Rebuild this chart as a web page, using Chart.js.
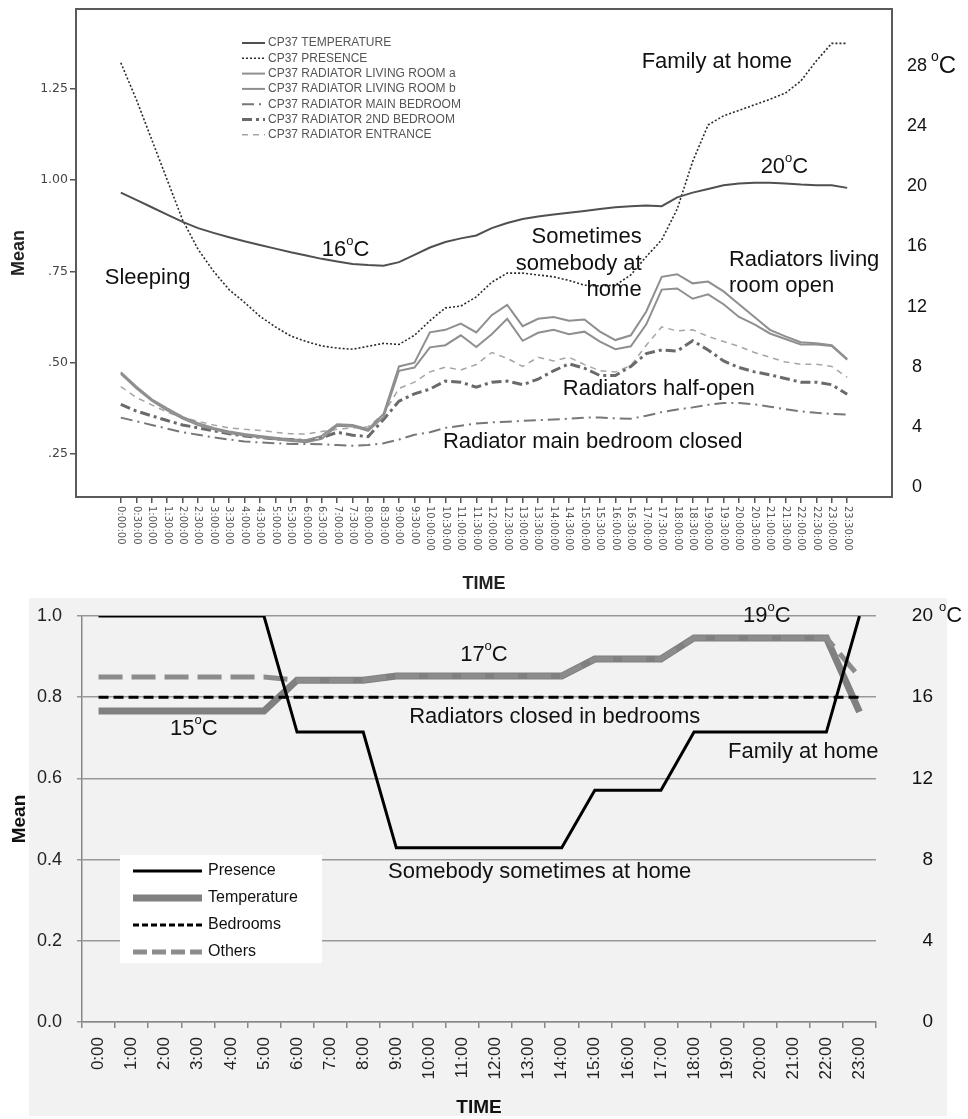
<!DOCTYPE html>
<html>
<head>
<meta charset="utf-8">
<script src="https://cdn.jsdelivr.net/npm/chart.js@4.4.1/dist/chart.umd.min.js"></script>
<style>
  body { margin: 0; background: #fff; }
  canvas { display: block; }
</style>
</head>
<body>
<canvas id="topChart" width="968" height="595"></canvas>
<canvas id="bottomChart" width="968" height="524"></canvas>
<script>
/* ===================== DATA: TOP CHART ===================== */
const times = ['0:00:00','0:30:00','1:00:00','1:30:00','2:00:00','2:30:00','3:00:00','3:30:00',
  '4:00:00','4:30:00','5:00:00','5:30:00','6:00:00','6:30:00','7:00:00','7:30:00',
  '8:00:00','8:30:00','9:00:00','9:30:00','10:00:00','10:30:00','11:00:00','11:30:00',
  '12:00:00','12:30:00','13:00:00','13:30:00','14:00:00','14:30:00','15:00:00','15:30:00',
  '16:00:00','16:30:00','17:00:00','17:30:00','18:00:00','18:30:00','19:00:00','19:30:00',
  '20:00:00','20:30:00','21:00:00','21:30:00','22:00:00','22:30:00','23:00:00','23:30:00'];

const tempTop = [0.965,0.945,0.925,0.905,0.885,0.868,0.855,0.843,0.832,0.822,0.812,0.802,
  0.793,0.784,0.777,0.770,0.767,0.765,0.775,0.795,0.815,0.830,0.840,0.848,
  0.868,0.882,0.893,0.900,0.905,0.910,0.915,0.920,0.925,0.928,0.930,0.928,
  0.952,0.965,0.975,0.985,0.990,0.992,0.992,0.990,0.987,0.985,0.985,0.978];
const presenceTop = [1.320,1.220,1.110,1.000,0.890,0.810,0.750,0.700,0.665,0.627,0.598,0.573,
  0.558,0.546,0.540,0.537,0.545,0.553,0.550,0.575,0.615,0.650,0.655,0.680,
  0.720,0.745,0.745,0.740,0.735,0.725,0.712,0.710,0.712,0.740,0.790,0.836,
  0.920,1.050,1.150,1.175,1.190,1.205,1.220,1.237,1.270,1.325,1.373,1.373];
const livingA = [0.474,0.435,0.400,0.375,0.352,0.335,0.322,0.312,0.305,0.300,0.295,0.290,
  0.288,0.300,0.332,0.330,0.318,0.360,0.490,0.500,0.583,0.590,0.607,0.583,
  0.630,0.658,0.600,0.620,0.625,0.615,0.618,0.585,0.562,0.575,0.640,0.735,
  0.742,0.717,0.722,0.695,0.660,0.625,0.590,0.572,0.556,0.553,0.548,0.510];
const livingB = [0.470,0.430,0.396,0.370,0.347,0.330,0.318,0.308,0.301,0.296,0.291,0.286,
  0.283,0.292,0.328,0.326,0.314,0.352,0.478,0.487,0.542,0.548,0.575,0.543,
  0.578,0.620,0.560,0.582,0.590,0.578,0.585,0.558,0.537,0.545,0.605,0.700,
  0.703,0.675,0.687,0.660,0.625,0.605,0.580,0.565,0.550,0.550,0.546,0.508];
const mainBedroom = [0.350,0.340,0.330,0.320,0.310,0.303,0.296,0.290,0.285,0.282,0.280,0.278,
  0.278,0.277,0.275,0.273,0.275,0.280,0.290,0.303,0.310,0.322,0.328,0.334,
  0.337,0.339,0.341,0.343,0.345,0.347,0.350,0.350,0.348,0.347,0.355,0.365,
  0.372,0.378,0.385,0.390,0.390,0.386,0.380,0.373,0.367,0.363,0.360,0.358];
const secondBedroom = [0.386,0.368,0.355,0.342,0.330,0.322,0.314,0.306,0.300,0.296,0.292,0.290,
  0.287,0.295,0.310,0.302,0.298,0.345,0.395,0.415,0.428,0.450,0.447,0.433,
  0.447,0.450,0.440,0.455,0.478,0.497,0.485,0.465,0.465,0.490,0.525,0.535,
  0.532,0.560,0.535,0.505,0.487,0.475,0.467,0.457,0.447,0.447,0.440,0.414];
const entrance = [0.435,0.405,0.385,0.365,0.350,0.340,0.330,0.322,0.318,0.315,0.310,0.306,
  0.305,0.312,0.318,0.322,0.325,0.360,0.430,0.447,0.475,0.488,0.480,0.495,
  0.528,0.512,0.490,0.515,0.505,0.515,0.495,0.478,0.475,0.492,0.548,0.598,
  0.587,0.590,0.572,0.558,0.545,0.528,0.515,0.502,0.496,0.496,0.490,0.460];
const meanTicksTop = [0.25, 0.50, 0.75, 1.00, 1.25];
const degTicksTop = [0, 4, 8, 12, 16, 20, 24, 28];

/* ===================== DATA: BOTTOM CHART ===================== */
const hours = ['0:00','1:00','2:00','3:00','4:00','5:00','6:00','7:00','8:00','9:00','10:00','11:00',
  '12:00','13:00','14:00','15:00','16:00','17:00','18:00','19:00','20:00','21:00','22:00','23:00'];
const presence = [1,1,1,1,1,1,0.714,0.714,0.714,0.429,0.429,0.429,
  0.429,0.429,0.429,0.571,0.571,0.571,0.714,0.714,0.714,0.714,0.714,1];
const temperature = [0.766,0.766,0.766,0.766,0.766,0.766,0.842,0.842,0.842,0.852,0.852,0.852,
  0.852,0.852,0.852,0.894,0.894,0.894,0.946,0.946,0.946,0.946,0.946,0.764];
const bedrooms = [0.8,0.8,0.8,0.8,0.8,0.8,0.8,0.8,0.8,0.8,0.8,0.8,
  0.8,0.8,0.8,0.8,0.8,0.8,0.8,0.8,0.8,0.8,0.8,0.8];
const others = [0.85,0.85,0.85,0.85,0.85,0.85,0.842,0.842,0.842,0.852,0.852,0.852,
  0.852,0.852,0.852,0.894,0.894,0.894,0.946,0.946,0.946,0.946,0.946,0.85];
const meanTicksBottom = [0, 0.2, 0.4, 0.6, 0.8, 1.0];
const degTicksBottom = [0, 4, 8, 12, 16, 20];

Chart.defaults.font.family = '"Liberation Sans", Arial, sans-serif';
const SANS = '"Liberation Sans", Arial, sans-serif';

/* ========== Text helper: "°" is drawn as a raised small o ========== */
function drawRich(ctx, text, x, y, size, align) {
  const big = size + 'px ' + SANS, small = Math.round(size * 0.6) + 'px ' + SANS;
  const segs = [];
  text.split('°').forEach((p, k) => {
    if (k > 0) { ctx.font = small; segs.push({ t: 'o', f: small, w: ctx.measureText('o').width, up: size * 0.38 }); }
    ctx.font = big; segs.push({ t: p, f: big, w: ctx.measureText(p).width, up: 0 });
  });
  const total = segs.reduce((s, g) => s + g.w, 0);
  let cx = align === 'right' ? x - total : align === 'center' ? x - total / 2 : x;
  ctx.textBaseline = 'middle';
  ctx.textAlign = 'left';
  segs.forEach(g => { ctx.font = g.f; ctx.fillText(g.t, cx, y - g.up); cx += g.w; });
}

// fixed scale sizes, no extra edge padding
function fixSize(w, h) {
  return s => {
    if (w) s.width = w;
    if (h) s.height = h;
    s.paddingTop = 0; s.paddingBottom = 0; s.paddingLeft = 0; s.paddingRight = 0;
  };
}

/* ========== Plugins ========== */
const notes = {
  id: 'notes',
  afterDatasetsDraw(chart, args, opts) {
    const { ctx } = chart, xs = chart.scales.x, ys = chart.scales.y;
    ctx.save();
    ctx.fillStyle = opts.color;
    opts.items.forEach(n => drawRich(ctx, n.text, xs.getPixelForValue(n.x), ys.getPixelForValue(n.y), opts.size, n.align || 'left'));
    if (opts.unit) {
      const u = opts.unit;
      drawRich(ctx, u.text, u.x, chart.scales.y2.getPixelForValue(u.value), u.size, 'left');
    }
    ctx.restore();
  }
};

const boxLegend = {
  id: 'boxLegend',
  afterDraw(chart, args, opts) {
    const { ctx } = chart;
    ctx.save();
    if (opts.box) { ctx.fillStyle = '#fff'; ctx.fillRect(opts.box[0], opts.box[1], opts.box[2], opts.box[3]); }
    chart.data.datasets.forEach((ds, k) => {
      const y = opts.y + k * opts.gap;
      ctx.strokeStyle = ds.borderColor;
      ctx.lineWidth = ds.borderWidth;
      ctx.setLineDash(opts.dash && opts.dash[k] ? opts.dash[k] : (ds.borderDash || []));
      ctx.beginPath(); ctx.moveTo(opts.x, y); ctx.lineTo(opts.x + opts.len, y); ctx.stroke();
      ctx.setLineDash([]);
      ctx.fillStyle = opts.color; ctx.font = opts.font;
      ctx.textBaseline = 'middle'; ctx.textAlign = 'left';
      ctx.fillText(ds.label, opts.x + opts.len + opts.pad, y);
    });
    ctx.restore();
  }
};

const frame = {
  id: 'frame',
  beforeDatasetsDraw(chart, args, opts) {
    if (!opts.color) return;
    const { ctx, chartArea: a } = chart;
    ctx.save();
    ctx.strokeStyle = opts.color; ctx.lineWidth = opts.width;
    ctx.strokeRect(a.left, a.top, a.right - a.left, a.bottom - a.top);
    ctx.restore();
  }
};

const downLabels = {
  id: 'downLabels',
  afterDraw(chart, args, opts) {
    if (!opts.labels) return;
    const { ctx } = chart, xs = chart.scales.x;
    ctx.save();
    ctx.font = opts.font; ctx.fillStyle = opts.color;
    ctx.textBaseline = 'middle'; ctx.textAlign = 'left';
    opts.labels.forEach((t, i) => {
      ctx.save();
      ctx.translate(xs.getPixelForValue(i), opts.top);
      ctx.rotate(Math.PI / 2);
      ctx.fillText(t, 0, 0);
      ctx.restore();
    });
    ctx.restore();
  }
};

const panel = {
  id: 'panel',
  beforeDraw(chart, args, opts) {
    if (!opts.rect) return;
    const { ctx } = chart;
    ctx.save(); ctx.fillStyle = opts.color;
    ctx.fillRect(opts.rect[0], opts.rect[1], opts.rect[2], opts.rect[3]);
    ctx.restore();
  }
};

/* ========== Top chart (SPSS style) ========== */
function topSeries(label, values, color, width, dash) {
  return { label, data: values.map((v, i) => ({ x: i, y: v })), borderColor: color, borderWidth: width,
    borderDash: dash, pointRadius: 0, fill: false, tension: 0 };
}

new Chart(document.getElementById('topChart'), {
  type: 'line',
  data: {
    datasets: [
      topSeries('CP37 TEMPERATURE', tempTop, '#505050', 2, []),
      topSeries('CP37 PRESENCE', presenceTop, '#2a2a2a', 1.6, [2, 2]),
      topSeries('CP37 RADIATOR LIVING ROOM a', livingA, '#8f8f8f', 2, []),
      topSeries('CP37 RADIATOR LIVING ROOM b', livingB, '#8f8f8f', 2, []),
      topSeries('CP37 RADIATOR MAIN BEDROOM', mainBedroom, '#777', 2, [12, 5, 2, 5]),
      topSeries('CP37 RADIATOR 2ND BEDROOM', secondBedroom, '#6a6a6a', 3, [10, 4, 3, 4]),
      topSeries('CP37 RADIATOR ENTRANCE', entrance, '#a5a5a5', 1.5, [6, 5])
    ]
  },
  options: {
    responsive: false,
    animation: false,
    layout: { autoPadding: false, padding: { top: 9, left: 0, right: 0, bottom: 0 } },
    scales: {
      x: {
        type: 'linear', min: -2.9, max: 49.9,
        afterBuildTicks: s => { s.ticks = times.map((t, i) => ({ value: i })); },
        afterFit: fixSize(0, 98),
        ticks: { display: false },
        grid: { drawOnChartArea: false, drawTicks: true, tickLength: 6, color: '#555', lineWidth: 1.5 },
        border: { display: false },
        title: { display: true, text: 'TIME', font: { size: 18, weight: 'bold' }, color: '#222', padding: 0 }
      },
      y: {
        position: 'left', min: 0.133, max: 1.467,
        afterBuildTicks: s => { s.ticks = meanTicksTop.map(v => ({ value: v })); },
        afterFit: fixSize(76, 0),
        ticks: { font: { family: '"DejaVu Sans"', size: 12.5 }, color: '#444', padding: 2,
          callback: v => v.toFixed(2).replace(/^0/, '') },
        grid: { drawOnChartArea: false, drawTicks: true, tickLength: 6, color: '#555', lineWidth: 1.5 },
        border: { display: false },
        title: { display: true, text: 'Mean', font: { size: 18, weight: 'bold' }, color: '#222', padding: { top: 8, bottom: 0 } }
      },
      y2: {
        position: 'right', min: -0.66, max: 31.79,
        afterBuildTicks: s => { s.ticks = degTicksTop.map(v => ({ value: v })); },
        afterFit: fixSize(76, 0),
        ticks: { font: { size: 18 }, color: '#111', padding: 15, crossAlign: 'center' },
        grid: { display: false, drawTicks: false },
        border: { display: false }
      }
    },
    plugins: {
      legend: { display: false },
      tooltip: { enabled: false },
      frame: { color: '#5a5a5a', width: 2 },
      downLabels: { labels: times, top: 506, font: '10px "DejaVu Sans"', color: '#555' },
      boxLegend: { x: 242, y: 43, gap: 15.3, len: 23, pad: 3, font: '12px ' + SANS, color: '#555' },
      notes: {
        color: '#111', size: 22,
        items: [
          { text: 'Sleeping', x: -1.04, y: 0.732 },
          { text: '16°C', x: 13.0, y: 0.809 },
          { text: 'Sometimes', x: 33.7, y: 0.844, align: 'right' },
          { text: 'somebody at', x: 33.7, y: 0.770, align: 'right' },
          { text: 'home', x: 33.7, y: 0.699, align: 'right' },
          { text: 'Family at home', x: 33.7, y: 1.322 },
          { text: '20°C', x: 41.4, y: 1.036 },
          { text: 'Radiators living', x: 39.35, y: 0.781 },
          { text: 'room open', x: 39.35, y: 0.710 },
          { text: 'Radiators half-open', x: 28.6, y: 0.429 },
          { text: 'Radiator main bedroom closed', x: 20.84, y: 0.284 }
        ],
        unit: { text: '°C', value: 28, x: 931, size: 24 }
      }
    }
  },
  plugins: [frame, downLabels, boxLegend, notes]
});

/* ========== Bottom chart (Excel style) ========== */
new Chart(document.getElementById('bottomChart'), {
  type: 'line',
  data: {
    labels: hours,
    datasets: [
      { label: 'Presence', data: presence, borderColor: '#000', borderWidth: 3, pointRadius: 0, tension: 0, order: 0 },
      { label: 'Temperature', data: temperature, borderColor: '#808080', borderWidth: 7, pointRadius: 0, tension: 0, order: 3 },
      { label: 'Bedrooms', data: bedrooms, borderColor: '#000', borderWidth: 3, borderDash: [10, 5], pointRadius: 0, tension: 0, order: 1 },
      { label: 'Others', data: others, borderColor: '#8c8c8c', borderWidth: 5, borderDash: [24, 9], pointRadius: 0, tension: 0, order: 2 }
    ]
  },
  options: {
    responsive: false,
    animation: false,
    layout: { autoPadding: false, padding: { top: 21, left: 0, right: 35, bottom: 0 } },
    scales: {
      x: {
        offset: true,
        afterFit: fixSize(0, 97),
        ticks: { minRotation: 90, maxRotation: 90, font: { size: 17 }, color: '#222', padding: 9 },
        grid: { offset: true, drawOnChartArea: false, drawTicks: true, tickLength: 6, color: '#888', lineWidth: 1.5 },
        border: { display: true, color: '#888', width: 1.5 },
        title: { display: true, text: 'TIME', font: { size: 19, weight: 'bold' }, color: '#111', padding: 0 }
      },
      y: {
        position: 'left', min: 0, max: 1,
        afterBuildTicks: s => { s.ticks = meanTicksBottom.map(v => ({ value: v })); },
        afterFit: fixSize(82, 0),
        ticks: { font: { size: 18 }, color: '#222', padding: 15, callback: v => v.toFixed(1) },
        grid: { color: '#999', lineWidth: 1.5, drawTicks: true, tickLength: 5 },
        border: { display: true, color: '#888', width: 1.5 },
        title: { display: true, text: 'Mean', font: { size: 19, weight: 'bold' }, color: '#111', padding: { top: 8, bottom: 0 } }
      },
      y2: {
        position: 'right', min: 0, max: 20,
        afterBuildTicks: s => { s.ticks = degTicksBottom.map(v => ({ value: v })); },
        afterFit: fixSize(57, 0),
        ticks: { font: { size: 19 }, color: '#111', padding: 0, crossAlign: 'far' },
        grid: { display: false, drawTicks: false },
        border: { display: false }
      }
    },
    plugins: {
      legend: { display: false },
      tooltip: { enabled: false },
      panel: { rect: [29, 3, 918, 518], color: '#f2f2f2' },
      boxLegend: { box: [120, 260, 202, 108], x: 133, y: 276, gap: 27, len: 69, pad: 6,
        font: '16px ' + SANS, color: '#111', dash: [null, null, [6, 3], [14, 5]] },
      notes: {
        color: '#111', size: 22,
        items: [
          { text: '15°C', x: 2.16, y: 0.722 },
          { text: '17°C', x: 10.93, y: 0.904 },
          { text: '19°C', x: 19.48, y: 1.0 },
          { text: 'Radiators closed in bedrooms', x: 9.39, y: 0.751 },
          { text: 'Family at home', x: 19.03, y: 0.665 },
          { text: 'Somebody sometimes at home', x: 8.75, y: 0.369 }
        ],
        unit: { text: ' °C', value: 20, x: 933, size: 22 }
      }
    }
  },
  plugins: [panel, boxLegend, notes]
});
</script>
</body>
</html>
